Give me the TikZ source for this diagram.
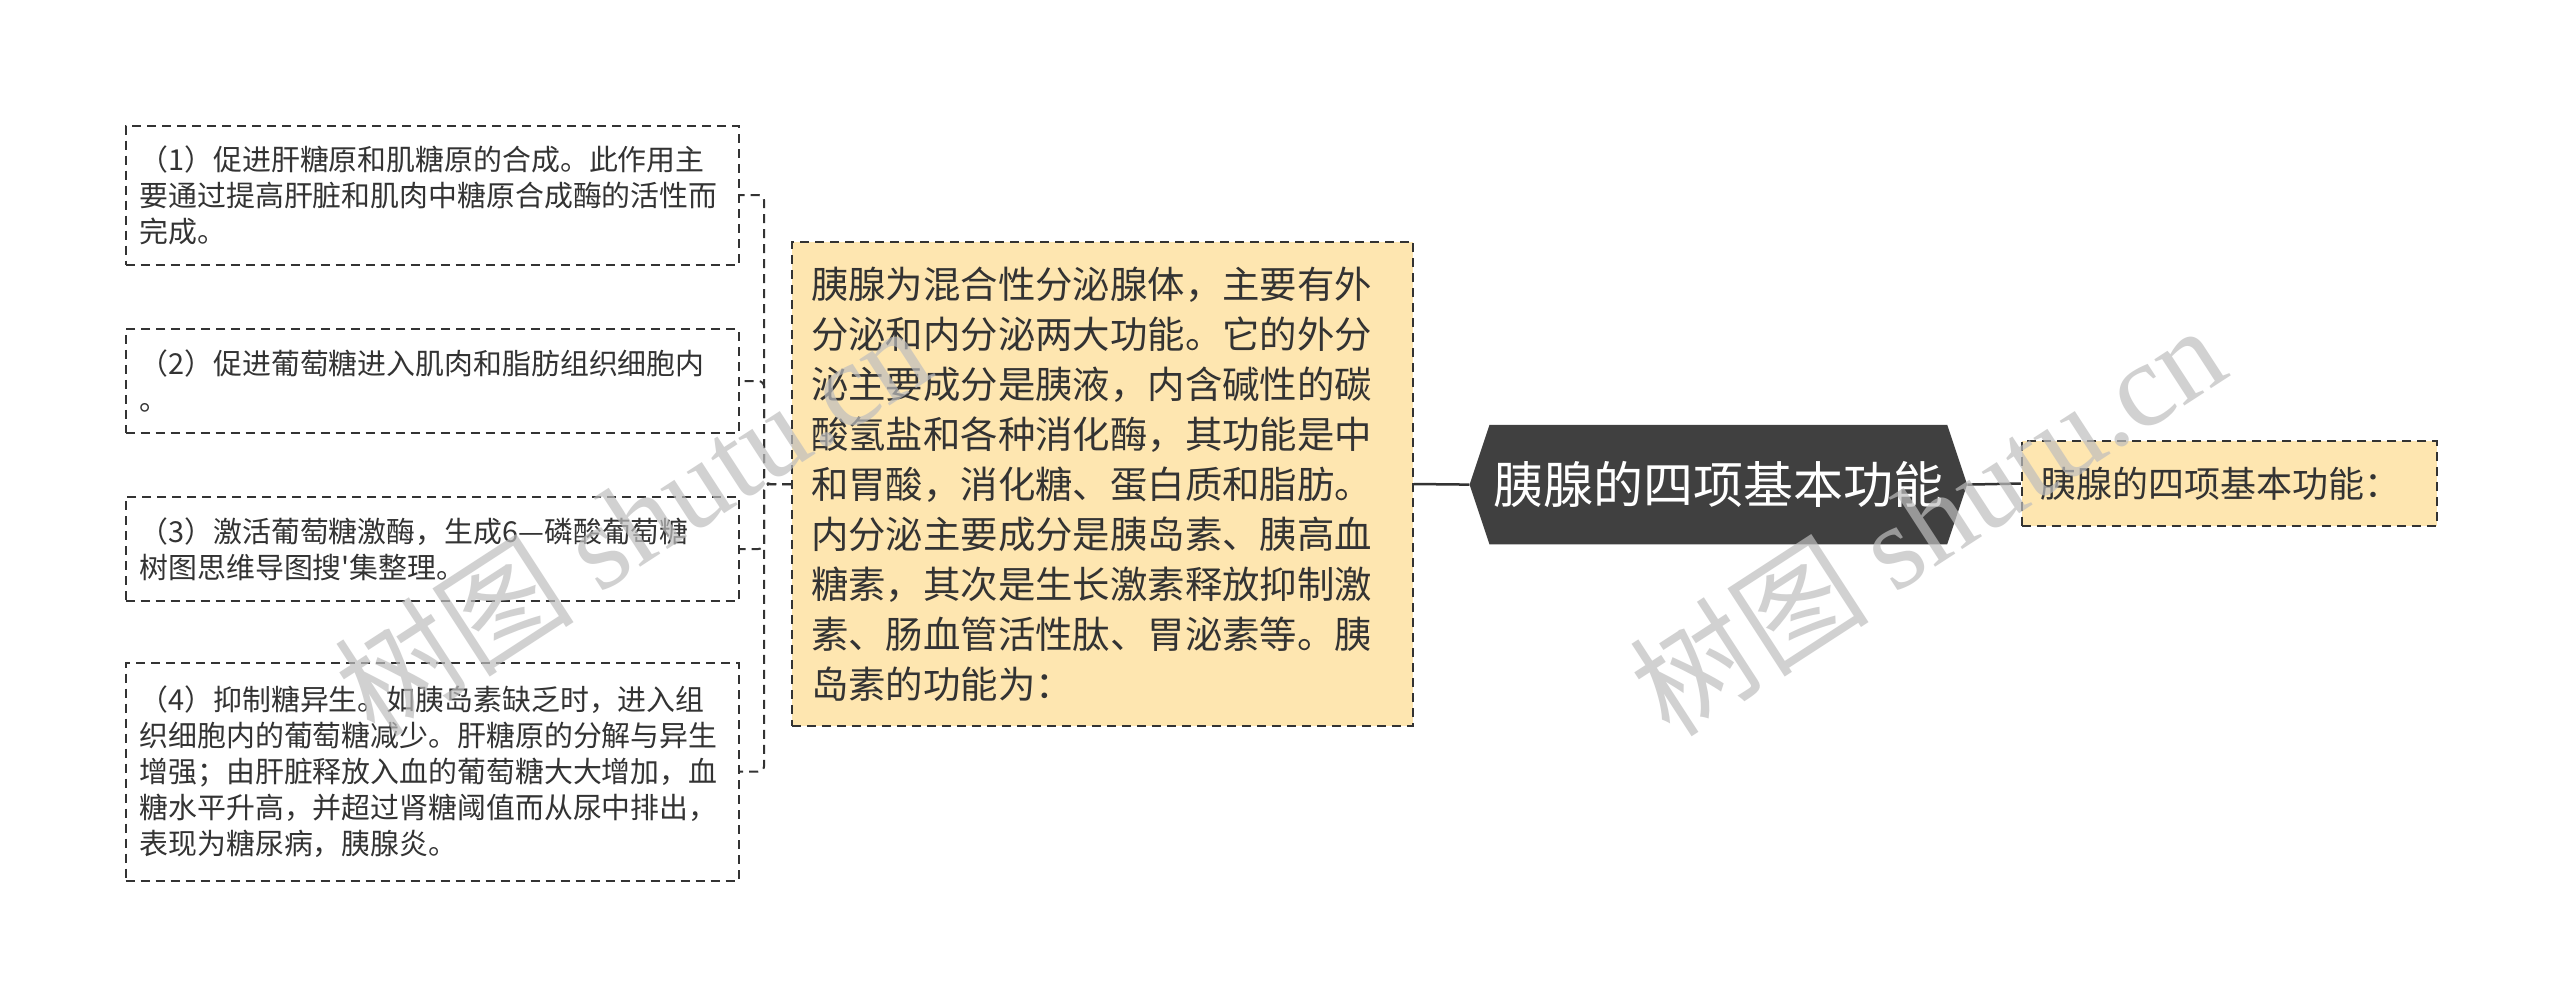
\documentclass[tikz,border=0pt]{standalone}
\usepackage{fontspec}
\newfontfamily\cjk{Noto Sans CJK SC}
\newfontfamily\wmserif{Liberation Serif}
\usetikzlibrary{positioning}
\definecolor{boxfill}{HTML}{FEE6B0}
\definecolor{ink}{HTML}{333333}
\definecolor{hexfill}{HTML}{404040}
\definecolor{wmgray}{HTML}{BEBEBE}
\tikzset{
  leafbox/.style={draw=ink, dash pattern=on 9pt off 6pt, line width=2pt,
    inner xsep=14pt, inner ysep=0pt, text width=585pt, align=left,
    font=\cjk\fontsize{28.9pt}{36pt}\selectfont, text=ink, anchor=center},
  notebox/.style={draw=ink, fill=boxfill, dash pattern=on 9pt off 6pt, line width=2pt,
    inner ysep=0pt, align=left, text=ink, anchor=center},
  conn/.style={draw=ink, line width=2.5pt},
  dconn/.style={draw=ink, line width=2pt, dash pattern=on 9pt off 6pt, rounded corners=6pt},
  wmark/.style={text=wmgray, text opacity=0.7, font=\cjk\fontsize{120pt}{120pt}\selectfont, anchor=center}
}
\begin{document}
\begin{tikzpicture}[x=1pt,y=-1pt]
\useasboundingbox (0,0) rectangle (2560,1005);
\fill[white] (0,0) rectangle (2560,1005);

% left leaves
\node[leafbox, minimum height=139pt] (b1) at (432,195) {（1）促进肝糖原和肌糖原的合成。此作用主\\要通过提高肝脏和肌肉中糖原合成酶的活性而\\完成。};
\node[leafbox, minimum height=103.5pt] (b2) at (432,381) {（2）促进葡萄糖进入肌肉和脂肪组织细胞内\\。};
\node[leafbox, minimum height=104.5pt] (b3) at (432,549) {（3）激活葡萄糖激酶，生成6—磷酸葡萄糖\\树图思维导图搜'集整理。};
\node[leafbox, minimum height=218pt] (b4) at (432,771.5) {（4）抑制糖异生。如胰岛素缺乏时，进入组\\织细胞内的葡萄糖减少。肝糖原的分解与异生\\增强；由肝脏释放入血的葡萄糖大大增加，血\\糖水平升高，并超过肾糖阈值而从尿中排出，\\表现为糖尿病，胰腺炎。};

% middle note
\node[notebox, minimum height=484.5pt, inner xsep=19pt, text width=583pt,
  font=\cjk\fontsize{37.4pt}{50pt}\selectfont] (mid) at (1102.5,484) {胰腺为混合性分泌腺体，主要有外\\分泌和内分泌两大功能。它的外分\\泌主要成分是胰液，内含碱性的碳\\酸氢盐和各种消化酶，其功能是中\\和胃酸，消化糖、蛋白质和脂肪。\\内分泌主要成分是胰岛素、胰高血\\糖素，其次是生长激素释放抑制激\\素、肠血管活性肽、胃泌素等。胰\\岛素的功能为：};

% central hexagon
\fill[hexfill] (1469.6,484.6) -- (1489.5,424.9) -- (1947.2,424.9) -- (1967.1,484.6) -- (1947.2,544.3) -- (1489.5,544.3) -- cycle;
\node[minimum width=497.5pt, minimum height=119.4pt, inner sep=0pt, text=white,
  font=\cjk\fontsize{50pt}{50pt}\selectfont] (hex) at (1718.4,484.6) {胰腺的四项基本功能};

% right note
\node[notebox, minimum height=84.6pt, inner xsep=19pt, text width=377pt,
  font=\cjk\fontsize{36pt}{40pt}\selectfont] (right) at (2229.3,483.5) {胰腺的四项基本功能：};

% connectors
\draw[conn] (hex.west) -- (mid.east);
\draw[conn] (hex.east) -- (right.west);
\coordinate (bus) at (764.2,484);
\draw[dconn] (mid.west) -- (bus) |- (b1.east);
\draw[dconn] (mid.west) -- (bus) |- (b2.east);
\draw[dconn] (mid.west) -- (bus) |- (b3.east);
\draw[dconn] (mid.west) -- (bus) |- (b4.east);

% watermarks
\node[wmark, rotate=33] (wm1) at (632,519) {树图 {\wmserif shutu.cn}};
\node[wmark, rotate=33] (wm2) at (1927,519) {树图 {\wmserif shutu.cn}};
\end{tikzpicture}
\end{document}
